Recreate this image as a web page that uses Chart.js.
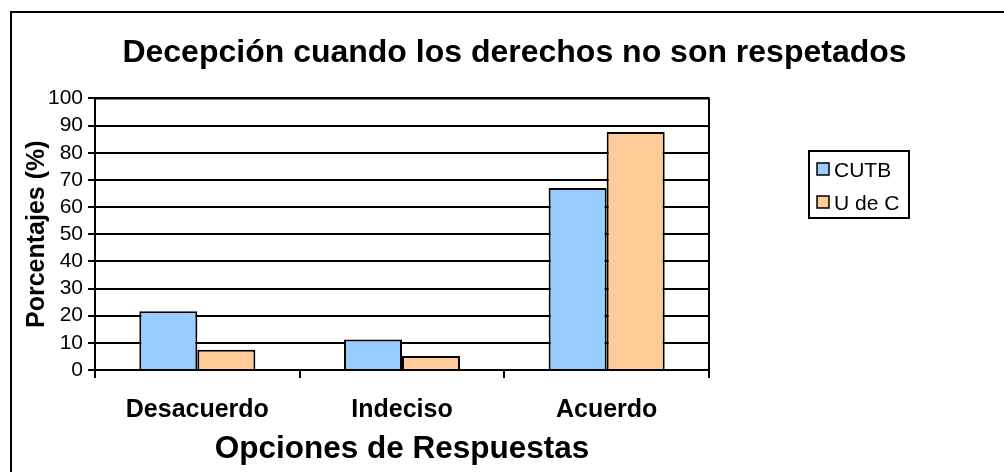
<!DOCTYPE html>
<html>
<head>
<meta charset="utf-8">
<script src="https://cdn.jsdelivr.net/npm/chart.js@4"></script>
<style>
  html, body { margin: 0; padding: 0; background: #fff; }
  canvas { display: block; }
</style>
</head>
<body>
<canvas id="graficoDecepcion" width="1004" height="472"></canvas>
<script>
// Datos
const categorias = ['Desacuerdo', 'Indeciso', 'Acuerdo'];
const valoresCUTB = [21.6, 11.2, 67];
const valoresUdeC = [7.5, 5.2, 87.6];
const nombresSeries = ['CUTB', 'U de C'];
const coloresSeries = ['#99CCFF', '#FFCC99'];
const ejeY = { min: 0, max: 100, paso: 10 };

const fuente = "'Liberation Sans', Arial, sans-serif";

// Marco exterior, borde del área de trazado y leyenda con recuadro
const marcoPlugin = {
    id: 'marco',
    beforeDraw(chart) {
        const ctx = chart.ctx;
        ctx.save();
        ctx.fillStyle = '#fff';
        ctx.fillRect(0, 0, chart.width, chart.height);
        ctx.strokeStyle = '#000';
        ctx.lineWidth = 2;
        ctx.strokeRect(11, 12, chart.width + 20, chart.height + 20);
        ctx.restore();
    },
    afterDraw(chart) {
        const ctx = chart.ctx;
        const a = chart.chartArea;
        ctx.save();
        ctx.strokeStyle = '#000';
        ctx.lineWidth = 2;
        ctx.beginPath();
        ctx.moveTo(a.left, a.top);
        ctx.lineTo(a.right, a.top);
        ctx.lineTo(a.right, a.bottom + 8);
        ctx.stroke();

        // leyenda
        ctx.strokeRect(809, 151, 100, 67);
        ctx.font = '21px ' + fuente;
        ctx.textBaseline = 'middle';
        ctx.textAlign = 'left';
        chart.data.datasets.forEach((ds, i) => {
            const y = 169 + i * 33;
            ctx.fillStyle = ds.backgroundColor;
            ctx.fillRect(817, y - 6, 12, 12);
            ctx.lineWidth = 1.5;
            ctx.strokeRect(817, y - 6, 12, 12);
            ctx.fillStyle = '#000';
            ctx.fillText(ds.label, 834, y + 2);
        });
        ctx.restore();
    }
};

const ctx = document.getElementById('graficoDecepcion').getContext('2d');

new Chart(ctx, {
    type: 'bar',
    data: {
        labels: categorias,
        datasets: [
            {
                label: nombresSeries[0],
                data: valoresCUTB,
                backgroundColor: coloresSeries[0],
                borderColor: '#000',
                borderWidth: 2,
                categoryPercentage: 0.567,
                barPercentage: 1
            },
            {
                label: nombresSeries[1],
                data: valoresUdeC,
                backgroundColor: coloresSeries[1],
                borderColor: '#000',
                borderWidth: 2,
                categoryPercentage: 0.567,
                barPercentage: 1
            }
        ]
    },
    options: {
        responsive: false,
        animation: false,
        layout: { padding: { left: 25, right: 0, top: 0, bottom: 0 } },
        scales: {
            x: {
                grid: {
                    offset: true,
                    drawOnChartArea: false,
                    color: '#000',
                    lineWidth: 2,
                    tickLength: 8
                },
                border: { color: '#000', width: 2 },
                ticks: {
                    color: '#000',
                    padding: 17,
                    font: { family: fuente, size: 25, weight: 'bold' }
                },
                title: {
                    display: true,
                    text: 'Opciones de Respuestas',
                    color: '#000',
                    padding: { top: 0, bottom: 4 },
                    font: { family: fuente, size: 31.5, weight: 'bold' }
                },
                afterFit: s => { s.height = 102; }
            },
            y: {
                min: ejeY.min,
                max: ejeY.max,
                ticks: {
                    stepSize: ejeY.paso,
                    autoSkip: false,
                    color: '#000',
                    padding: 5,
                    font: { family: fuente, size: 21 }
                },
                grid: { color: '#000', lineWidth: 2, tickLength: 7 },
                border: { color: '#000', width: 2 },
                title: {
                    display: true,
                    text: 'Porcentajes (%)',
                    color: '#000',
                    padding: { top: 0, bottom: 0 },
                    font: { family: fuente, size: 25, weight: 'bold', lineHeight: 1 }
                },
                afterFit: s => { s.width = 70; }
            },
            // espacio reservado a la derecha para la leyenda
            hueco: {
                position: 'right',
                display: true,
                ticks: { display: false },
                grid: { display: false },
                border: { display: false },
                afterFit: s => { s.width = 295; }
            }
        },
        plugins: {
            legend: { display: false },
            tooltip: { enabled: false },
            title: {
                display: true,
                text: 'Decepción cuando los derechos no son respetados',
                color: '#000',
                padding: { top: 34, bottom: 26 },
                font: { family: fuente, size: 32, weight: 'bold' }
            }
        }
    },
    plugins: [marcoPlugin]
});
</script>
</body>
</html>
